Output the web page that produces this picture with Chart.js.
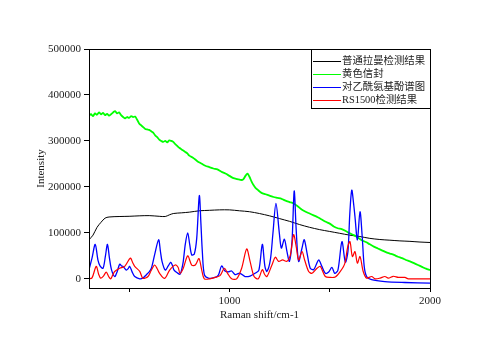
<!DOCTYPE html>
<html>
<head>
<meta charset="utf-8">
<script src="https://cdn.jsdelivr.net/npm/chart.js@4.4.1/dist/chart.umd.min.js"></script>
<style>
	html, body { margin: 0; padding: 0; background: #fff; }
	#wrap { width: 500px; height: 346px; }
</style>
</head>
<body>
<div id="wrap"><canvas id="chart" width="500" height="346"></canvas></div>
<script>
const seriesNames = ['普通拉曼检测结果', '黄色信封', '对乙酰氨基酚谱图', 'RS1500检测结果'];
const seriesColors = ['#000000', '#00ff00', '#0000ff', '#ff0000'];
const yTicks = [0, 100000, 200000, 300000, 400000, 500000];
const xTicks = [500, 1000, 1500, 2000];
const xLabelled = [1000, 2000];

const blackShift = [300, 320, 340, 360, 380, 400, 450, 500, 550, 600, 650, 680, 700, 720, 760, 800, 850, 900, 950, 1000, 1050, 1100, 1150, 1200, 1250, 1300, 1350, 1400, 1450, 1500, 1550, 1600, 1650, 1700, 1750, 1800, 1850, 1900, 1950, 2000];
const blackIntensity = [85000, 95000, 112000, 123000, 132000, 134500, 135500, 136000, 137000, 137500, 136000, 135500, 139000, 142000, 143500, 145000, 148000, 149000, 150000, 150000, 148000, 146000, 142000, 137000, 131000, 125000, 118000, 112000, 107000, 103000, 99000, 95000, 92000, 88000, 85500, 84000, 82500, 81500, 80000, 79000];

const greenShift = [300, 310, 320, 330, 340, 350, 360, 370, 380, 390, 400, 410, 420, 430, 440, 450, 460, 470, 480, 490, 500, 510, 520, 530, 540, 550, 560, 570, 580, 590, 600, 610, 620, 630, 640, 650, 660, 670, 680, 690, 700, 710, 720, 730, 740, 750, 760, 770, 780, 790, 800, 820, 840, 860, 880, 900, 920, 940, 960, 980, 1000, 1020, 1040, 1060, 1070, 1080, 1090, 1100, 1110, 1120, 1130, 1140, 1160, 1180, 1200, 1220, 1240, 1260, 1280, 1300, 1320, 1340, 1360, 1380, 1400, 1420, 1440, 1460, 1480, 1500, 1520, 1540, 1560, 1580, 1600, 1620, 1640, 1660, 1680, 1700, 1720, 1740, 1760, 1780, 1800, 1820, 1840, 1860, 1880, 1900, 1920, 1940, 1960, 1980, 2000];
const greenIntensity = [355000, 358000, 354000, 360000, 357000, 362000, 358000, 361000, 356000, 359000, 355000, 358000, 362000, 365000, 360000, 362000, 356000, 352000, 349000, 352000, 350000, 354000, 352000, 353000, 346000, 338000, 334000, 330000, 326000, 325000, 324000, 321000, 318000, 312000, 308000, 303000, 300000, 298000, 300000, 297000, 301000, 300000, 298000, 293000, 289000, 285000, 282000, 279000, 276000, 273000, 268000, 263000, 256000, 251000, 246000, 243000, 240000, 238000, 233000, 229000, 224000, 219000, 217000, 215000, 217000, 224000, 229000, 222000, 212000, 204000, 198000, 194000, 187000, 184000, 181000, 178000, 176000, 174000, 170000, 167000, 164000, 158000, 151000, 146000, 142000, 138000, 134000, 129000, 124000, 120000, 114000, 110000, 108000, 104000, 99000, 95000, 90000, 84000, 80000, 75000, 70000, 66000, 62000, 58000, 55000, 52000, 48000, 45000, 41000, 38000, 34000, 30000, 26000, 22000, 19000];

const blueShift = [300, 315, 331, 345, 355, 370, 382, 392, 402, 412, 428, 440, 453, 462, 470, 486, 495, 503, 515, 528, 553, 570, 586, 600, 611, 627, 647, 656, 664, 680, 695, 707, 715, 724, 740, 754, 762, 770, 780, 792, 802, 812, 825, 837, 850, 858, 865, 875, 895, 928, 945, 961, 978, 994, 1011, 1028, 1040, 1053, 1078, 1103, 1128, 1147, 1164, 1177, 1187, 1204, 1217, 1232, 1249, 1259, 1274, 1287, 1299, 1312, 1323, 1333, 1345, 1362, 1373, 1387, 1403, 1420, 1432, 1445, 1461, 1478, 1495, 1511, 1525, 1541, 1561, 1578, 1591, 1600, 1610, 1620, 1626, 1638, 1651, 1662, 1672, 1684, 1709, 1775, 1875, 2000];
const blueIntensity = [20000, 45000, 75000, 40000, 28000, 23000, 50000, 75000, 45000, 20000, 5000, 15000, 32000, 28000, 27000, 19000, 22000, 27000, 15000, 5000, 0, 2000, 9000, 15000, 23000, 52000, 85000, 60000, 38000, 19000, 28000, 36000, 30000, 19000, 13000, 10000, 20000, 38000, 75000, 100000, 75000, 52000, 54000, 88000, 181000, 120000, 59000, 9000, 1500, 3000, 8000, 28000, 17000, 15000, 17000, 9000, 11000, 12000, 5000, 6000, 12000, 19000, 75000, 27000, 16000, 41000, 99000, 164000, 99000, 67000, 86000, 59000, 38000, 81000, 191000, 106000, 38000, 67000, 85000, 56000, 23000, 20000, 30000, 41000, 27000, 12000, 15000, 25000, 12000, 19000, 81000, 36000, 60000, 140000, 193000, 160000, 135000, 85000, 146000, 92000, 27000, 5000, -2000, -6000, -8000, -9500];

const redShift = [300, 315, 336, 348, 358, 372, 386, 398, 408, 418, 428, 453, 478, 506, 518, 528, 553, 569, 594, 610, 627, 640, 652, 677, 702, 730, 744, 754, 770, 792, 812, 830, 848, 862, 875, 903, 928, 953, 975, 991, 1011, 1036, 1061, 1086, 1103, 1123, 1144, 1164, 1175, 1187, 1212, 1229, 1245, 1265, 1287, 1304, 1320, 1333, 1345, 1362, 1375, 1395, 1412, 1437, 1453, 1478, 1503, 1528, 1553, 1575, 1590, 1601, 1613, 1626, 1638, 1651, 1667, 1684, 1709, 1726, 1751, 1775, 1792, 1817, 1842, 1875, 1892, 2000];
const redIntensity = [0, 2000, 27000, 10000, 1500, 6000, 14500, 5000, 0, 8000, 16000, 23000, 27000, 45000, 35000, 27000, 16000, 1000, 5000, 18000, 30000, 22000, 12000, 1000, 19000, 30000, 25000, 12000, 23000, 50000, 30000, 30000, 44000, 19000, 0, 0, 3000, 7000, 23000, 12000, 0, 0, 23000, 65000, 38000, 5000, 0, 20000, 10000, 5000, 30000, 47000, 38000, 41000, 38000, 52000, 96000, 70000, 41000, 59000, 41000, 16000, 12000, 23000, 27000, 5000, 3000, 4000, 16000, 33000, 70000, 81000, 48500, 59000, 34000, 48500, 16000, 1500, 5000, 0, 1500, 5000, 1500, 5500, 3000, 3000, 0, 0];

const points = (xs, ys) => xs.map((x, i) => ({ x: x, y: ys[i] }));
const serif = '"Liberation Serif", "Noto Sans CJK SC", serif';
Chart.defaults.color = '#222';
Chart.defaults.font.family = serif;
Chart.defaults.font.size = 11;

const frameAndLegend = {
	id: 'frameAndLegend',
	afterDraw(chart) {
		const ctx = chart.ctx;
		const a = chart.chartArea;
		ctx.save();
		ctx.strokeStyle = '#000';
		ctx.lineWidth = 1;
		ctx.strokeRect(Math.round(a.left) + 0.5, Math.round(a.top) + 0.5, Math.round(a.right - a.left), Math.round(a.bottom - a.top));
		// legend box in the top right corner of the plot
		const boxLeft = 311.5;
		const boxTop = Math.round(a.top) + 0.5;
		const boxRight = Math.round(a.right) + 0.5;
		ctx.fillStyle = '#fff';
		ctx.fillRect(boxLeft, boxTop, boxRight - boxLeft, 59);
		ctx.strokeRect(boxLeft, boxTop, boxRight - boxLeft, 59);
		ctx.font = '10.4px ' + serif;
		ctx.textBaseline = 'middle';
		ctx.textAlign = 'left';
		seriesNames.forEach((name, i) => {
			const y = Math.round(boxTop + 11 + i * 13) + 0.5;
			ctx.strokeStyle = seriesColors[i];
			ctx.beginPath();
			ctx.moveTo(313, y);
			ctx.lineTo(341, y);
			ctx.stroke();
			ctx.fillStyle = '#222';
			ctx.fillText(name, 342, y);
		});
		ctx.restore();
	}
};

new Chart('chart', {
	type: 'line',
	data: {
		datasets: [
			{ label: seriesNames[0], data: points(blackShift, blackIntensity), borderColor: seriesColors[0], borderWidth: 1, order: 3 },
			{ label: seriesNames[1], data: points(greenShift, greenIntensity), borderColor: seriesColors[1], borderWidth: 1.8, order: 2 },
			{ label: seriesNames[2], data: points(blueShift, blueIntensity), borderColor: seriesColors[2], borderWidth: 1.3, order: 1 },
			{ label: seriesNames[3], data: points(redShift, redIntensity), borderColor: seriesColors[3], borderWidth: 1.2, order: 0 }
		]
	},
	options: {
		responsive: false,
		animation: false,
		events: [],
		elements: {
			point: { radius: 0 },
			line: { tension: 0.3, fill: false }
		},
		layout: {
			padding: { left: 0, right: 70, top: 49, bottom: 0 }
		},
		plugins: {
			legend: { display: false },
			tooltip: { enabled: false }
		},
		scales: {
			x: {
				type: 'linear',
				min: 300,
				max: 2000,
				afterFit: scale => { scale.height = 58; },
				afterBuildTicks: scale => { scale.ticks = xTicks.map(v => ({ value: v })); },
				ticks: {
					padding: 3,
					maxRotation: 0,
					autoSkip: false,
					callback: value => xLabelled.includes(value) ? String(value) : ''
				},
				grid: { drawOnChartArea: false, tickLength: 4, color: '#000' },
				border: { color: '#000' },
				title: { display: true, text: 'Raman shift/cm-1', padding: { top: 0, bottom: 24 } }
			},
			y: {
				type: 'linear',
				min: -20000,
				max: 500000,
				afterFit: scale => { scale.width = 89; },
				afterBuildTicks: scale => { scale.ticks = yTicks.map(v => ({ value: v })); },
				ticks: {
					padding: 3,
					callback: value => String(value)
				},
				grid: { drawOnChartArea: false, tickLength: 5, color: '#000' },
				border: { color: '#000' },
				title: { display: true, text: 'Intensity', padding: { top: 35, bottom: 0 } }
			}
		}
	},
	plugins: [frameAndLegend]
});
</script>
</body>
</html>
